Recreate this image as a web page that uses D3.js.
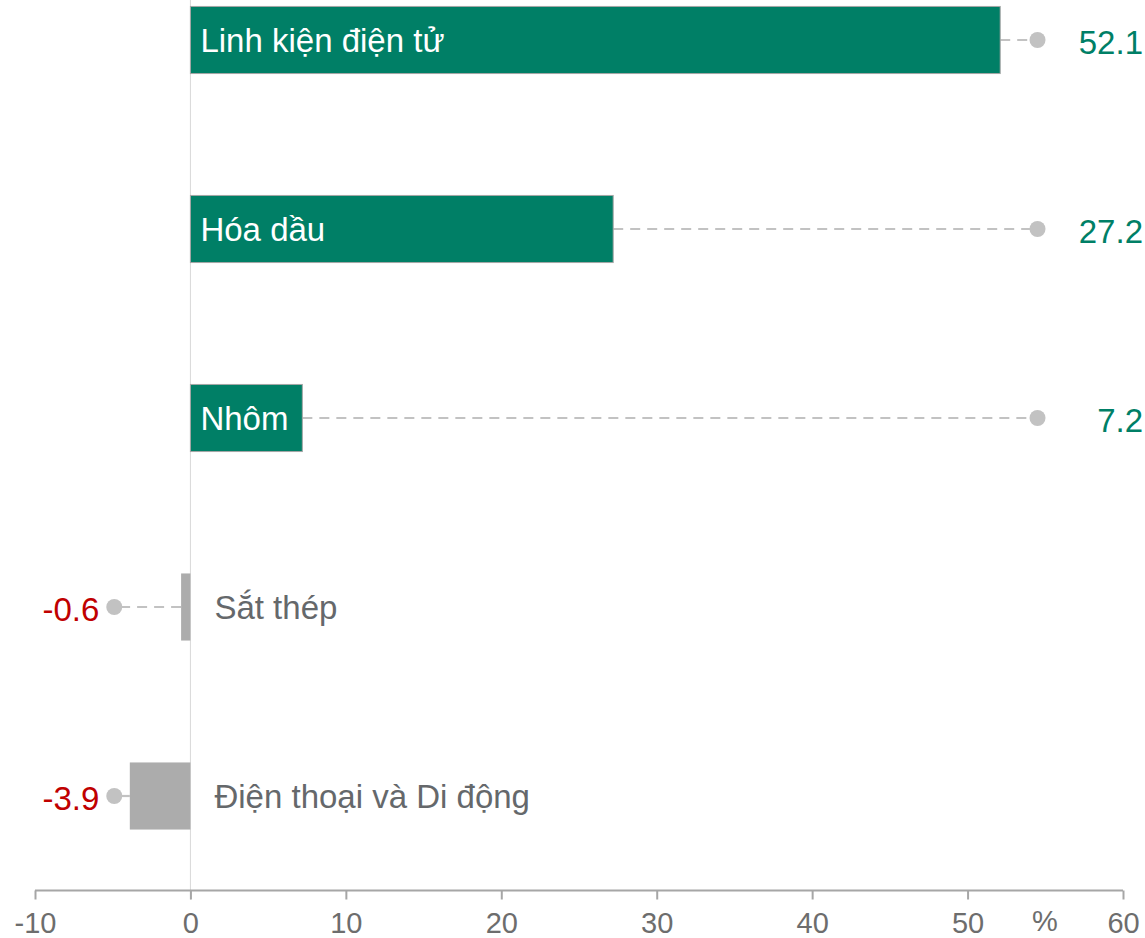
<!DOCTYPE html>
<html lang="vi">
<head>
<meta charset="UTF-8">
<title>Tăng trưởng theo ngành</title>
<script src="https://cdn.jsdelivr.net/npm/d3@7"></script>
<style>
    body { margin: 0; background: #fff; }
    svg { display: block; font-family: "Liberation Sans", Arial, sans-serif; }
</style>
</head>
<body>
<div id="chart"></div>
<script>
// Dữ liệu
const categories = ["Linh kiện điện tử", "Hóa dầu", "Nhôm", "Sắt thép", "Điện thoại và Di động"];
const values = [52.1, 27.2, 7.2, -0.6, -3.9];
const tickValues = [-10, 0, 10, 20, 30, 40, 50, 60];
const unitLabel = "%";
// vị trí chấm tròn (đơn vị của trục)
const dotPositive = 54.5;
const dotNegative = -4.9;

const width = 1145, height = 938;
const green = "#007f66", red = "#c00000", grayBar = "#acacac", grayText = "#65686b";

const svg = d3.select("#chart").append("svg")
    .attr("width", width)
    .attr("height", height);

const x = d3.scaleLinear().domain([-10, 60]).range([35, 1123]);
const y = d3.scaleBand()
    .domain(categories)
    .range([-54.5, 890.5])
    .paddingInner(0.645)
    .paddingOuter(0.3225);

const axisY = 890.5;
const fmt = v => d3.format(".1f")(v).replace("\u2212", "-");

// đường 0
svg.append("line")
    .attr("x1", x(0)).attr("x2", x(0))
    .attr("y1", 0).attr("y2", axisY + 9)
    .attr("stroke", "#d9d9d9").attr("stroke-width", 1);

const data = categories.map((c, i) => ({ name: c, value: values[i] }));

// đường nét đứt tới chấm
svg.selectAll(".lead")
    .data(data)
    .enter().append("line")
    .attr("class", "lead")
    .attr("x1", d => x(d.value))
    .attr("x2", d => x(d.value >= 0 ? dotPositive : dotNegative))
    .attr("y1", d => y(d.name) + y.bandwidth() / 2)
    .attr("y2", d => y(d.name) + y.bandwidth() / 2)
    .attr("stroke", "#c2c2c2")
    .attr("stroke-width", 2.2)
    .attr("stroke-dasharray", "10,7");

svg.selectAll(".dot")
    .data(data)
    .enter().append("circle")
    .attr("class", "dot")
    .attr("cx", d => x(d.value >= 0 ? dotPositive : dotNegative))
    .attr("cy", d => y(d.name) + y.bandwidth() / 2)
    .attr("r", 8)
    .attr("fill", "#c2c2c2");

// thanh
svg.selectAll(".bar")
    .data(data)
    .enter().append("rect")
    .attr("class", "bar")
    .attr("x", d => x(Math.min(0, d.value)))
    .attr("width", d => Math.abs(x(d.value) - x(0)))
    .attr("y", d => y(d.name))
    .attr("height", y.bandwidth())
    .attr("fill", d => d.value >= 0 ? green : grayBar)
    .attr("stroke", d => d.value >= 0 ? "#a6a6a6" : "none")
    .attr("stroke-width", 1);

// nhãn danh mục
svg.selectAll(".cat")
    .data(data)
    .enter().append("text")
    .attr("class", "cat")
    .attr("x", d => d.value >= 0 ? x(0) + 10 : x(0) + 24)
    .attr("y", d => y(d.name) + y.bandwidth() / 2)
    .attr("dy", "0.36em")
    .attr("font-size", 33)
    .attr("fill", d => d.value >= 0 ? "#fff" : grayText)
    .text(d => d.name);

// nhãn giá trị
svg.selectAll(".val")
    .data(data)
    .enter().append("text")
    .attr("class", "val")
    .attr("x", d => d.value >= 0 ? 1143 : x(dotNegative) - 15)
    .attr("y", d => y(d.name) + y.bandwidth() / 2)
    .attr("dy", "0.42em")
    .attr("text-anchor", "end")
    .attr("font-size", 33)
    .attr("fill", d => d.value >= 0 ? green : red)
    .text(d => fmt(d.value));

// trục x
const axis = svg.append("g")
    .attr("transform", `translate(0,${axisY})`)
    .call(d3.axisBottom(x).tickValues(tickValues).tickSize(9).tickPadding(13)
        .tickFormat(v => d3.format("d")(v).replace("\u2212", "-")));
axis.select(".domain").attr("stroke", "#a6a6a6").attr("stroke-width", 2).attr("d", `M${x(-10)},0H${x(60)}`);
axis.selectAll(".tick line").attr("stroke", "#a6a6a6").attr("stroke-width", 2);
axis.selectAll(".tick text")
    .attr("font-size", 29)
    .attr("font-family", "Liberation Sans, Arial, sans-serif")
    .attr("fill", "#6d6d6d");

svg.append("text")
    .attr("x", 1045)
    .attr("y", 931)
    .attr("text-anchor", "middle")
    .attr("font-size", 29)
    .attr("fill", "#6d6d6d")
    .text(unitLabel);
</script>
</body>
</html>
